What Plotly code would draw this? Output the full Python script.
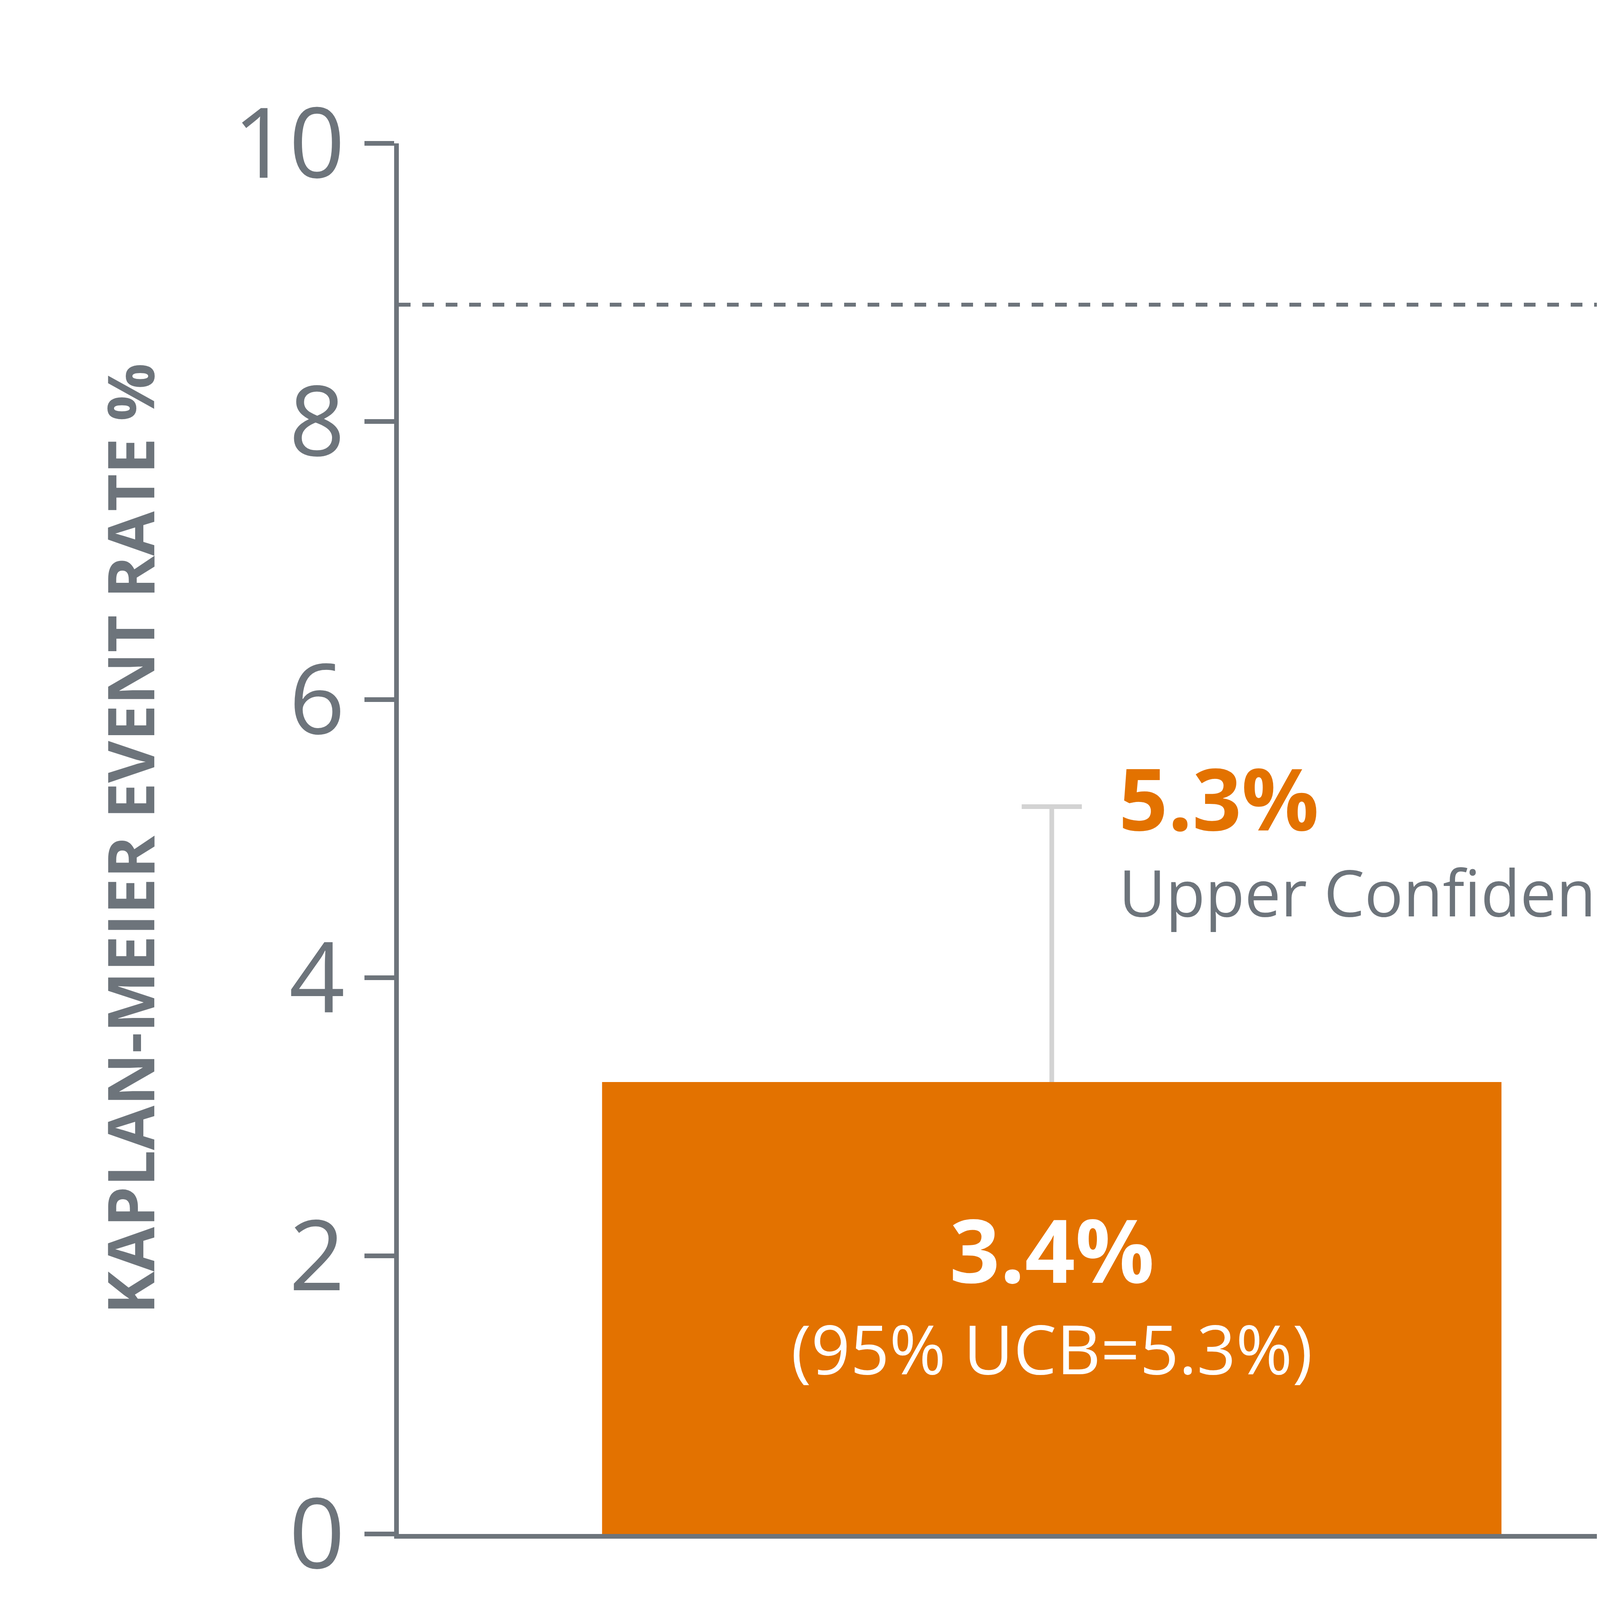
import plotly.graph_objects as go

# values
category = [0.514]
bar_value = [3.25]
ucb_value = [5.23]
goal_value = 8.84
y_ticks = [0, 2, 4, 6, 8, 10]

GRAY = "#6d747b"
ORANGE = "#e37200"
FONT = "Open Sans"

fig = go.Figure()
fig.add_trace(go.Bar(
    x=category, y=bar_value, width=0.708,
    marker=dict(color=ORANGE, line=dict(width=0)),
    hoverinfo="skip",
))

# upper confidence whisker, only above the bar
fig.add_trace(go.Scatter(
    x=category * 2, y=[bar_value[0], ucb_value[0]], mode="lines",
    line=dict(color="#d3d3d3", width=12), hoverinfo="skip",
))
fig.add_trace(go.Scatter(
    x=category, y=ucb_value, mode="markers",
    marker=dict(symbol="line-ew", size=110, line=dict(color="#d3d3d3", width=12)),
    hoverinfo="skip",
))

# dashed goal line with open chevron
fig.add_shape(type="line", x0=0, x1=0.985, y0=goal_value, y1=goal_value,
              line=dict(color=GRAY, width=10, dash="dash"))
for dy in (0.13, -0.13):
    fig.add_shape(type="line", x0=0.962, x1=0.987, y0=goal_value + dy, y1=goal_value,
                  line=dict(color=GRAY, width=10))

def note(text, x, y, size, color=GRAY, bold=False, anchor="left"):
    fig.add_annotation(x=x, y=y, xref="x", yref="y", text=f"<b>{text}</b>" if bold else text,
                       showarrow=False, xanchor=anchor, yanchor="middle",
                       font=dict(family=FONT, size=size, color=color))

note("Performance", 1.035, goal_value, 250)
note("Goal = 8.7%", 1.035, 8.1, 250)
note("5.3%", 0.566, 5.3, 220, ORANGE, bold=True)
note("Upper Confidence Bound", 0.566, 4.62, 165)
note("3.4%", 0.514, 2.05, 225, "white", bold=True, anchor="center")
note("(95% UCB=5.3%)", 0.514, 1.34, 175, "white", anchor="center")
note("Ischemic Stroke or Systemic", 0.499, -0.62, 190, anchor="center")
note("Embolism at 2 Years", 0.499, -1.21, 190, anchor="center")

fig.update_layout(
    width=6554, height=4556,
    margin=dict(l=1013, r=2289, t=359, b=637),
    plot_bgcolor="white", paper_bgcolor="white",
    showlegend=False,
    font=dict(family=FONT, color=GRAY),
    xaxis=dict(range=[0, 1], showticklabels=False, showgrid=False, zeroline=False,
               showline=True, linecolor=GRAY, linewidth=12, ticks=""),
    yaxis=dict(range=[0, 10], tickvals=y_ticks, showgrid=False, zeroline=False,
               showline=True, linecolor=GRAY, linewidth=12,
               ticks="outside", ticklen=76, tickwidth=12, tickcolor=GRAY,
               tickfont=dict(family=FONT, size=250, color=GRAY),
               title=dict(text="<b>KAPLAN-MEIER EVENT RATE %</b>", standoff=150,
                          font=dict(family=FONT, size=165, color=GRAY))),
)

fig.write_html("out.html")
